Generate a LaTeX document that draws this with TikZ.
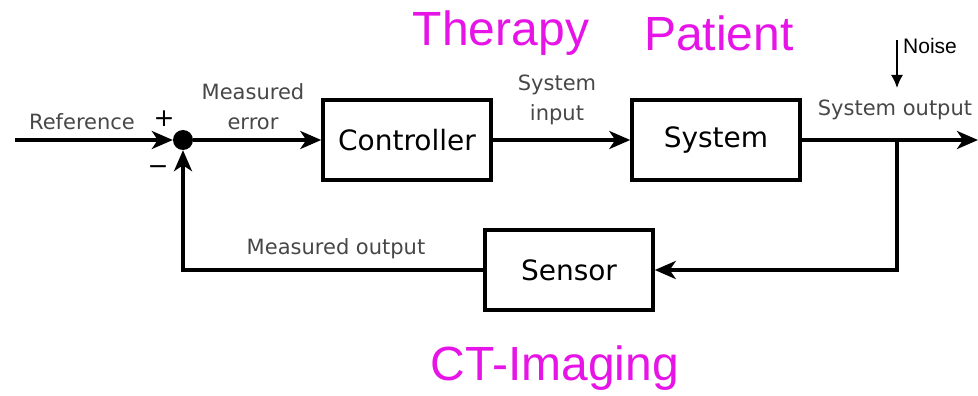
\documentclass[tikz,border=0pt]{standalone}
\usepackage{fontspec}
\newfontfamily\blockfont{DejaVu Sans}
\newfontfamily\notefont{Liberation Sans}
\usetikzlibrary{arrows.meta}

\definecolor{notemagenta}{RGB}{230,20,230}

\begin{document}
\begin{tikzpicture}[
            x=1pt,y=-1pt,
            block node/.style={draw,line width=3.5pt,minimum width=168pt,minimum height=80pt,inner sep=0pt,font=\blockfont\fontsize{28}{32}\selectfont},
            label node/.style={text=black!72,inner sep=0pt,align=center,font=\blockfont\fontsize{21}{30}\selectfont},
            sign node/.style={inner sep=0pt,font=\blockfont\fontsize{25}{28}\selectfont},
            note node/.style={text=notemagenta,inner sep=0pt,font=\notefont\fontsize{48}{52}\selectfont},
            signal/.style={line width=3.5pt,-{Stealth[length=21pt,width=18pt,inset=6pt]}},
            ]
            \useasboundingbox (0,0) rectangle (978,396);

            % blocks
            \node[block node] (ctrl) at (407,140) {Controller};
            \node[block node] (sys) at (716,140) {System};
            \node[block node] (sens) at (569,270) {Sensor};
            \node[circle,fill=black,inner sep=0pt,minimum size=20pt] (sum) at (183,140) {};

            % free ends
            \coordinate (in) at (15,140);
            \coordinate (out) at (978,140);
            \coordinate (tap) at (897,140);
            \coordinate (noise) at (897,40);

            % signals
            \draw[signal] (in) -- (sum);
            \draw[signal] (sum) -- (ctrl);
            \draw[signal] (ctrl) -- (sys);
            \draw[signal] (sys) -- (out);
            \draw[signal] (tap) |- (sens);
            \draw[signal] (sens) -| (sum);
            \draw[line width=1.6pt,-{Latex[length=13pt,width=12pt]}] (noise) -- (897,88);

            % labels
            \node[label node] (lref) at (82,122) {Reference};
            \node[sign node] (plus) at (164,119) {+};
            \node[sign node] (minus) at (158,170) {−};
            \node[label node] (lerr) at (253,107) {Measured\\error};
            \node[label node] (lin) at (557,100) {System\\input};
            \node[label node] (lout) at (895,110) {System output};
            \node[label node] (lmeas) at (336,249) {Measured output};
            \node[inner sep=0pt,anchor=west,font=\notefont\fontsize{21}{24}\selectfont] (lnoise) at (903,46) {Noise};

            % annotations
            \node[note node] (ther) at (501,33) {Therapy};
            \node[note node] (pat) at (719,33) {Patient};
            \node[note node] (ct) at (555,368) {CT-Imaging};
        \end{tikzpicture}
\end{document}
